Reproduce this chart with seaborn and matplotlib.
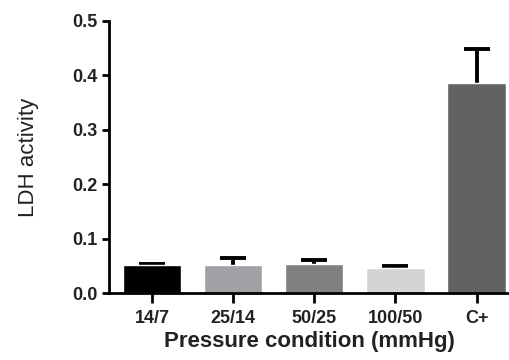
import matplotlib
matplotlib.use("Agg")
import seaborn as sns
from matplotlib import pyplot as plt

conditions = ["14/7", "25/14", "50/25", "100/50", "C+"]
ldh = [0.052, 0.052, 0.053, 0.046, 0.386]
sem = [0.0005, 0.013, 0.008, 0.003, 0.062]
colors = ["#000000", "#a1a1a5", "#808080", "#d4d4d4", "#626262"]

sns.set_style("ticks")
plt.rcParams["font.family"] = ["Liberation Sans", "DejaVu Sans"]

fig = plt.figure(figsize=(5.09, 3.6), dpi=100)
ax = fig.add_axes([0.214, 0.186, 0.786, 0.756])

sns.barplot(x=conditions, y=ldh, hue=conditions, palette=colors, legend=False,
            width=0.72, saturation=1, ax=ax, zorder=3)
# upper error only, the lower stub hides inside the bar
lower = [min(0.01, v) for v in ldh]
ax.errorbar(range(len(conditions)), ldh, yerr=[lower, sem], fmt="none",
            ecolor="black", elinewidth=2.8, capsize=9.7, capthick=2.8, zorder=2)

ax.set_xlim(-0.53, 4.40)
ax.set_ylim(0, 0.5)
ax.set_yticks([0, 0.1, 0.2, 0.3, 0.4, 0.5])
ax.set_yticklabels(["0.0", "0.1", "0.2", "0.3", "0.4", "0.5"])
sns.despine(ax=ax)
for side in ["left", "bottom"]:
    ax.spines[side].set_linewidth(2)
    ax.spines[side].set_color("black")
    ax.spines[side].set_zorder(4)
ax.tick_params(axis="both", width=2, colors="black", labelsize=13)
ax.tick_params(axis="y", length=5, pad=3)
ax.tick_params(axis="x", length=7, pad=5)
for lab in ax.get_xticklabels() + ax.get_yticklabels():
    lab.set_fontweight("bold")
    lab.set_color("#222222")

ax.set_xlabel("Pressure condition (mmHg)", fontsize=16, fontweight="bold",
              color="#222222", labelpad=3)
ax.set_ylabel("LDH activity", fontsize=16, color="#222222", labelpad=24)

fig.savefig("out.png", dpi=100)
